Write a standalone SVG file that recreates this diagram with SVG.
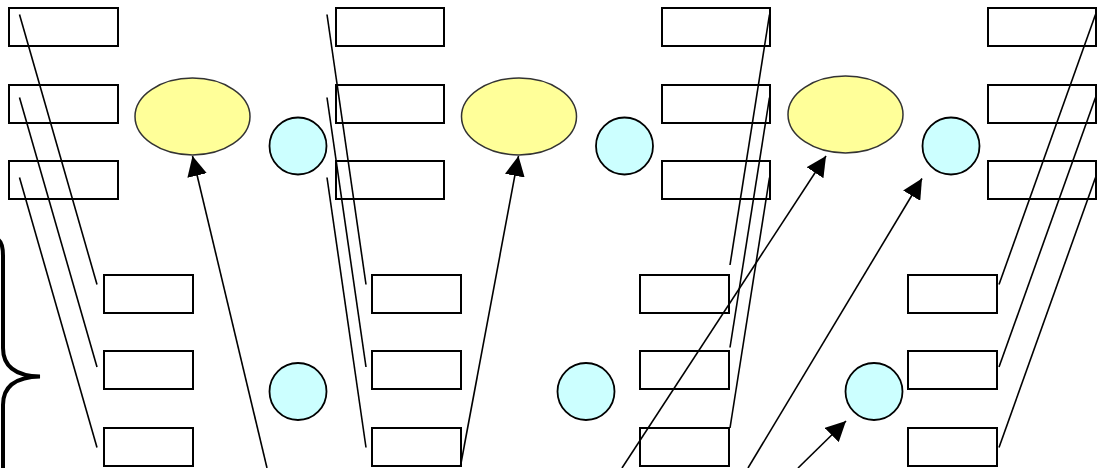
<svg xmlns="http://www.w3.org/2000/svg" width="1104" height="468" viewBox="0 0 1104 468">
  <style>
    .box { fill: #ffffff; stroke: #000000; stroke-width: 2; }
    .ell { fill: #ffff99; stroke: #333333; stroke-width: 1.5; }
    .circ { fill: #ccffff; stroke: #000000; stroke-width: 1.8; }
    .ln { stroke: #000000; stroke-width: 1.6; fill: none; }
    .arr { stroke: #000000; stroke-width: 1.6; fill: none; marker-end: url(#ah); }
    .brace { stroke: #000000; stroke-width: 4; fill: none; stroke-linecap: round; }
  </style>
  <defs>
    <marker id="ah" markerUnits="userSpaceOnUse" markerWidth="20" markerHeight="20" refX="20" refY="10" orient="auto">
      <path d="M0,0 L20,10 L0,20 Z" fill="#000000"/>
    </marker>
  </defs>
  <rect width="1104" height="468" fill="#ffffff"/>

  <g id="nodes">
    <g id="t1a"><rect class="box" x="9" y="8" width="109" height="38"/></g>
    <g id="t1b"><rect class="box" x="9" y="85" width="109" height="38"/></g>
    <g id="t1c"><rect class="box" x="9" y="161" width="109" height="38"/></g>
    <g id="t2a"><rect class="box" x="336" y="8" width="108" height="38"/></g>
    <g id="t2b"><rect class="box" x="336" y="85" width="108" height="38"/></g>
    <g id="t2c"><rect class="box" x="336" y="161" width="108" height="38"/></g>
    <g id="t3a"><rect class="box" x="662" y="8" width="108" height="38"/></g>
    <g id="t3b"><rect class="box" x="662" y="85" width="108" height="38"/></g>
    <g id="t3c"><rect class="box" x="662" y="161" width="108" height="38"/></g>
    <g id="t4a"><rect class="box" x="988" y="8" width="108" height="38"/></g>
    <g id="t4b"><rect class="box" x="988" y="85" width="108" height="38"/></g>
    <g id="t4c"><rect class="box" x="988" y="161" width="108" height="38"/></g>

    <g id="b1a"><rect class="box" x="104" y="275" width="89" height="38"/></g>
    <g id="b1b"><rect class="box" x="104" y="351" width="89" height="38"/></g>
    <g id="b1c"><rect class="box" x="104" y="428" width="89" height="38"/></g>
    <g id="b2a"><rect class="box" x="372" y="275" width="89" height="38"/></g>
    <g id="b2b"><rect class="box" x="372" y="351" width="89" height="38"/></g>
    <g id="b2c"><rect class="box" x="372" y="428" width="89" height="38"/></g>
    <g id="b3a"><rect class="box" x="640" y="275" width="89" height="38"/></g>
    <g id="b3b"><rect class="box" x="640" y="351" width="89" height="38"/></g>
    <g id="b3c"><rect class="box" x="640" y="428" width="89" height="38"/></g>
    <g id="b4a"><rect class="box" x="908" y="275" width="89" height="38"/></g>
    <g id="b4b"><rect class="box" x="908" y="351" width="89" height="38"/></g>
    <g id="b4c"><rect class="box" x="908" y="428" width="89" height="38"/></g>

    <g id="e1"><ellipse class="ell" cx="192.5" cy="116.5" rx="57.5" ry="38.5"/></g>
    <g id="e2"><ellipse class="ell" cx="519" cy="116.5" rx="57.5" ry="38.5"/></g>
    <g id="e3"><ellipse class="ell" cx="845.5" cy="114.5" rx="57.5" ry="38.5"/></g>

    <g id="c1"><circle class="circ" cx="298" cy="146" r="28.5"/></g>
    <g id="c2"><circle class="circ" cx="624.5" cy="146" r="28.5"/></g>
    <g id="c3"><circle class="circ" cx="951" cy="146" r="28.5"/></g>
    <g id="c4"><circle class="circ" cx="298" cy="391.5" r="28.5"/></g>
    <g id="c5"><circle class="circ" cx="586" cy="391.5" r="28.5"/></g>
    <g id="c6"><circle class="circ" cx="874" cy="391.5" r="28.5"/></g>

    <g id="brace"><path class="brace" d="M-4,239 Q3,240 3,256 L3,348 C3,368 18,376 40,376.5 C18,377 3,385 3,405 L3,470"/></g>
  </g>

  <g id="connectors">
    <line class="ln" x1="19.5" y1="14.5" x2="97" y2="284.5"/>
    <line class="ln" x1="19.5" y1="97.5" x2="97" y2="367"/>
    <line class="ln" x1="19.5" y1="177.5" x2="97" y2="447.5"/>

    <line class="ln" x1="327" y1="14.5" x2="366" y2="284.5"/>
    <line class="ln" x1="327" y1="97.5" x2="366" y2="367"/>
    <line class="ln" x1="327" y1="177.5" x2="366" y2="447.5"/>

    <line class="ln" x1="769.5" y1="14.5" x2="730" y2="265"/>
    <line class="ln" x1="769.5" y1="97.5" x2="730" y2="347.5"/>
    <line class="ln" x1="769.5" y1="177.5" x2="730" y2="428"/>

    <line class="ln" x1="1095.5" y1="14.5" x2="999" y2="284.5"/>
    <line class="ln" x1="1095.5" y1="97.5" x2="999" y2="367"/>
    <line class="ln" x1="1095.5" y1="177.5" x2="999" y2="447.5"/>

    <line class="arr" x1="267" y1="468" x2="192.5" y2="156"/>
    <line class="arr" x1="460.5" y1="466" x2="518.5" y2="156"/>
    <line class="arr" x1="622" y1="468" x2="826" y2="156"/>
    <line class="arr" x1="748" y1="468" x2="922" y2="178.5"/>
    <line class="arr" x1="798" y1="468" x2="846" y2="421"/>
  </g>
</svg>
